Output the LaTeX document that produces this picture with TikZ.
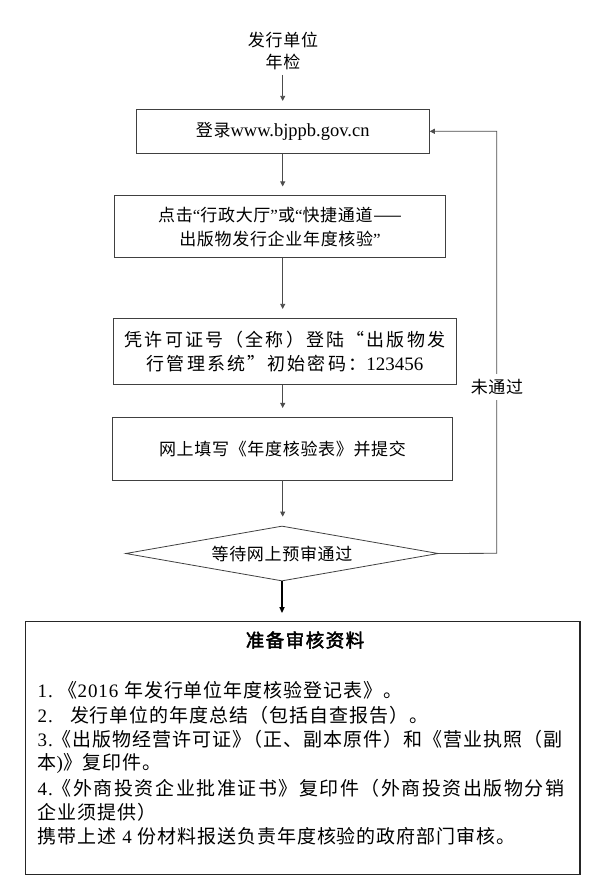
\documentclass[tikz,border=0pt]{standalone}
\usepackage{fontspec}
\setmainfont{Liberation Serif}
\newfontfamily\cjk[LetterSpace=4]{Noto Sans CJK SC}
\newfontfamily\cjkw[LetterSpace=12]{Noto Sans CJK SC}
\newfontfamily\cjkl[LetterSpace=5]{Noto Sans CJK SC}
\newfontfamily\cjkj[LetterSpace=8]{Noto Sans CJK SC}
\newfontfamily\latl[LetterSpace=5]{Liberation Serif}
\usetikzlibrary{shapes.geometric,arrows.meta}
\tikzset{
  box/.style={draw=black!75, line width=0.8pt, inner sep=0pt, align=center},
  conn/.style={draw=black!70, line width=0.8pt},
  arr/.style={conn, -{Triangle[length=5pt,width=5pt]}},
  listline/.style={anchor=west, inner sep=0pt, font=\fontsize{19}{22}\cjkl\selectfont},
}
\begin{document}
\begin{tikzpicture}[x=1pt,y=-1pt]
\useasboundingbox (0,0) rectangle (606,882);
% start text
\node[align=center, inner sep=0pt, font=\fontsize{17}{21.7}\cjk\selectfont] (start) at (283,51) {发行单位\\年检};
% boxes
\node[box, minimum width=293.3, minimum height=44] (b1) at (282.7,131.3)
  {{\fontsize{17}{20}\cjk\selectfont 登录}{\fontsize{18.5}{20}\selectfont www.bjppb.gov.cn}};
\node[box, minimum width=330.6, minimum height=62, font=\fontsize{17}{23.5}\selectfont] (b2) at (280,226.8)
  {{\cjk 点击}“{\cjk 行政大厅}”{\cjk 或}“{\cjk 快捷通道——}\\{\cjk 出版物发行企业年度核验}”};
\node[box, minimum width=343.4, minimum height=66, font=\fontsize{18}{24}\selectfont] (b3) at (285,351.3)
  {{\cjkw 凭许可证号（全称）登陆“出版物发}\\{\cjkw 行管理系统”初始密码：}{\fontsize{19}{24}\selectfont 123456}};
\node[box, minimum width=340.4, minimum height=62.7, font=\fontsize{17}{20}\cjk\selectfont] (b4) at (282.5,448.7)
  {网上填写《年度核验表》并提交};
\node[box, shape=diamond, aspect=5.7, minimum width=312.6, minimum height=55, font=\fontsize{17}{20}\cjk\selectfont] (dia) at (282,553.5)
  {等待网上预审通过};
\node[draw=black!85, line width=1.2pt, minimum width=554.3, minimum height=252.8, inner sep=0pt] (mat) at (302.85,748.1) {};
% connectors
\draw[arr, shorten >=8pt] (282.7,75) coordinate (s0) -- (s0 |- b1.north);
\draw[arr, shorten >=9pt] (b1.south) -- (b1.south |- b2.north);
\draw[arr, shorten >=9pt] (b1.south |- b2.south) -- (b1.south |- b3.north);
\draw[arr, shorten >=9pt] (b1.south |- b3.south) -- (b1.south |- b4.north);
\draw[arr, shorten >=9pt] (b1.south |- b4.south) -- (b1.south |- dia.north);
\coordinate (loop) at (496.7,553.3);
\draw[arr] (dia.east) -- (loop) |- (b1.east);
\node[fill=white, inner xsep=1pt, inner ysep=5pt, font=\fontsize{17}{20}\cjk\selectfont] (np) at (497,387) {未通过};
\draw[draw=black, line width=1.5pt, -{Triangle[length=6pt,width=5pt]}, shorten >=8pt] (dia.south) -- (dia.south |- mat.north);
% materials text
\node[inner sep=0pt, font=\fontsize{18.5}{22}\selectfont] (title) at (305,640)
  {\fontspec[LetterSpace=8, FakeBold=2.5]{Noto Sans CJK SC}准备审核资料};
\node[listline] (l1) at (37.5,690.5) {{\latl 1.\ }《{\latl 2016 }年发行单位年度核验登记表》。};
\node[listline] (l2) at (37.5,714.8) {{\latl 2.\ \ \ }发行单位的年度总结（包括自查报告）。};
\node[listline] (l3) at (37.5,739.2) {{\latl 3.}《出版物经营许可证》\kern-0.4em（正、副本原件）和《营业执照（副};
\node[listline] (l4) at (37.5,763.5) {本{\latl )}》复印件。};
\node[listline, font=\fontsize{19}{22}\cjkj\selectfont] (l5) at (37.5,788) {{\latl 4.}《外商投资企业批准证书》复印件（外商投资出版物分销};
\node[listline] (l6) at (37.5,812.2) {企业须提供）};
\node[listline] (l7) at (37.5,836.3) {携带上述{\latl\ 4 }份材料报送负责年度核验的政府部门审核。};
\end{tikzpicture}
\end{document}
